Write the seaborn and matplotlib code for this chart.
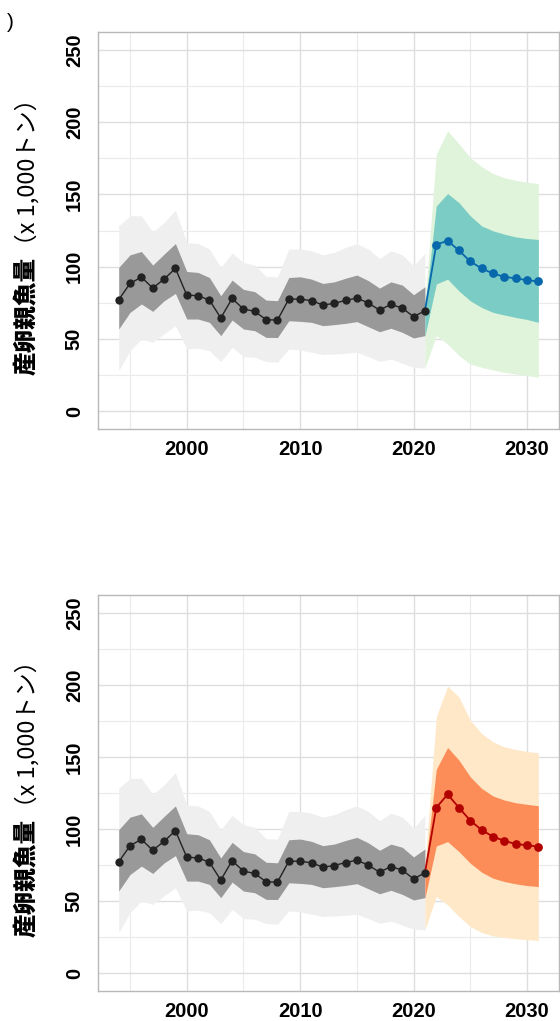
import matplotlib
matplotlib.use("Agg")
import matplotlib.pyplot as plt
import seaborn as sns

# ---- data -------------------------------------------------------------
years_hist = list(range(1994, 2022))
ssb_hist = [77.1, 88.4, 92.8, 85.2, 91.4, 98.8, 80.4, 79.9, 76.9, 64.5,
            78.0, 70.7, 69.1, 63.3, 63.1, 77.6, 77.6, 76.5, 73.5, 74.6,
            76.7, 78.3, 74.9, 70.0, 73.9, 71.4, 65.4, 69.5]
hist_hi80 = [99.5, 108.2, 110.5, 101.1, 108.7, 116.0, 96.7, 96.0, 92.5, 79.9,
             90.7, 84.3, 82.7, 76.9, 76.5, 92.5, 93.0, 91.4, 88.4, 89.5,
             92.0, 94.2, 90.4, 85.2, 89.5, 87.3, 80.6, 86.1]
hist_lo80 = [56.9, 68.4, 74.2, 69.1, 76.4, 81.5, 63.8, 63.8, 61.5, 52.3,
             63.1, 56.9, 55.7, 51.1, 51.0, 62.6, 62.2, 61.5, 59.2, 59.9,
             60.8, 62.0, 58.5, 55.0, 57.4, 54.6, 50.7, 52.3]
hist_hi95 = [128.2, 135.2, 135.2, 124.1, 130.5, 139.1, 116.7, 116.0, 112.2, 99.5,
             109.4, 102.9, 101.1, 93.2, 93.0, 112.2, 112.2, 111.0, 108.2, 109.9,
             113.3, 116.0, 112.2, 105.7, 111.0, 108.2, 100.6, 109.4]
hist_lo95 = [28.1, 41.9, 50.0, 47.7, 53.5, 59.2, 43.1, 43.6, 41.9, 34.3,
             44.2, 37.8, 37.3, 34.3, 34.0, 43.1, 42.4, 40.8, 39.2, 39.6,
             40.1, 40.8, 37.8, 34.5, 36.1, 33.2, 30.4, 29.9]

# projection intervals start from the terminal-year estimate
start_year = 2021
start_hi95, start_hi80, start_lo80, start_lo95 = 75.0, 71.0, 52.0, 30.0

years_proj = list(range(2022, 2032))

proj_a = [115.3, 117.9, 111.2, 103.6, 98.8, 95.3, 93.0, 91.9, 90.7, 89.8]
a_hi95 = [177.8, 193.9, 185.0, 175.4, 169.2, 164.4, 161.6, 159.8, 158.4, 157.5]
a_hi80 = [142.0, 150.6, 144.3, 135.2, 128.2, 124.8, 122.5, 120.6, 119.5, 118.8]
a_lo80 = [88.0, 91.4, 83.2, 76.4, 71.8, 68.4, 66.6, 64.9, 63.5, 61.5]
a_lo95 = [52.3, 46.5, 38.5, 32.7, 30.4, 28.6, 26.9, 25.8, 24.7, 23.5]

proj_b = [114.8, 124.0, 114.8, 105.8, 99.3, 94.7, 91.7, 89.6, 88.7, 87.7]
b_hi95 = [177.8, 199.1, 191.7, 175.5, 166.3, 160.5, 157.0, 155.2, 153.8, 152.9]
b_hi80 = [141.4, 156.6, 147.8, 136.2, 128.2, 122.9, 120.1, 118.2, 117.1, 116.1]
b_lo80 = [88.2, 91.2, 84.3, 76.2, 70.0, 65.8, 63.5, 61.9, 60.7, 60.0]
b_lo95 = [53.1, 47.3, 39.2, 32.3, 28.1, 25.8, 24.7, 23.8, 23.1, 22.6]

x_major = [2000, 2010, 2020, 2030]
x_minor = [1995, 2005, 2015, 2025]
y_major = [0, 50, 100, 150, 200, 250]
y_minor = [25, 75, 125, 175, 225]

ylabel_main = "産卵親魚量"
ylabel_unit = "（x 1,000トン）"

# ---- style ------------------------------------------------------------
sns.set_style("white")
plt.rcParams["font.family"] = ["Liberation Sans", "DejaVu Sans"]
plt.rcParams["text.color"] = "black"
plt.rcParams["xtick.labelcolor"] = "black"
plt.rcParams["ytick.labelcolor"] = "black"
jp_family = ["Noto Sans CJK JP", "DejaVu Sans"]

fig = plt.figure(figsize=(5.6, 10.21), dpi=100)
ax_top = fig.add_axes([0.1745, 0.5795, 0.8243, 0.3894])
ax_bot = fig.add_axes([0.1745, 0.0294, 0.8243, 0.3879])


def draw_panel(ax, proj, hi95, hi80, lo80, lo95, c_outer, c_inner, c_line):
    ax.fill_between(years_hist, hist_lo95, hist_hi95, color="#EFEFEF", lw=0, zorder=1)
    ax.fill_between(years_hist, hist_lo80, hist_hi80, color="#999999", lw=0, zorder=2)

    px = [start_year] + years_proj
    ax.fill_between(px, [start_lo95] + lo95, [start_hi95] + hi95,
                    color=c_outer, lw=0, zorder=1)
    ax.fill_between(px, [start_lo80] + lo80, [start_hi80] + hi80,
                    color=c_inner, lw=0, zorder=2)

    sns.lineplot(x=px, y=[ssb_hist[-1]] + proj, color=c_line, lw=1.3,
                 marker="o", markersize=6.3, markeredgewidth=0,
                 markevery=list(range(1, len(px))), ax=ax, zorder=3)
    sns.lineplot(x=years_hist, y=ssb_hist, color="#222222", lw=1.0,
                 marker="o", markersize=6.0, markeredgewidth=0, ax=ax, zorder=4)

    ax.set_xlim(1992.15, 2032.85)
    ax.set_ylim(-12.5, 262.5)
    ax.set_xticks(x_major)
    ax.set_xticks(x_minor, minor=True)
    ax.set_yticks(y_major)
    ax.set_yticks(y_minor, minor=True)
    ax.set_xticklabels([str(v) for v in x_major], fontsize=14.5, fontweight="bold",
                       color="black")
    ax.set_yticklabels([str(v) for v in y_major], fontsize=14.5, fontweight="bold",
                       rotation=90, va="center", ha="right", color="black")
    ax.set_xlabel("")
    ax.set_ylabel("")

    ax.set_axisbelow(True)
    ax.grid(which="major", color="#DEDEDE", lw=1.0)
    ax.grid(which="minor", color="#EBEBEB", lw=0.8)
    ax.tick_params(axis="y", which="major", length=4, width=0.9, color="#B3B3B3", pad=6)
    ax.tick_params(axis="x", which="major", length=3.5, width=0.9, color="#B3B3B3", pad=4.5)
    ax.tick_params(which="minor", length=0)
    for sp in ax.spines.values():
        sp.set_visible(True)
        sp.set_color("#B8B8B8")
        sp.set_linewidth(1.0)


draw_panel(ax_top, proj_a, a_hi95, a_hi80, a_lo80, a_lo95,
           "#E0F3DB", "#7BCCC4", "#0868AC")
draw_panel(ax_bot, proj_b, b_hi95, b_hi80, b_lo80, b_lo95,
           "#FEE8C8", "#FC8D59", "#B30000")

# two-part rotated y label: heavy species term followed by the unit
fig.canvas.draw()
renderer = fig.canvas.get_renderer()
for ax in (ax_top, ax_bot):
    pos = ax.get_position()
    yc = (pos.y0 + pos.y1) / 2
    x = 27 / 560
    t1 = fig.text(x, 0, ylabel_main, rotation=90, rotation_mode="anchor",
                  ha="left", va="center", fontsize=17, fontweight=900,
                  family=jp_family, color="black")
    t2 = fig.text(x, 0, ylabel_unit, rotation=90, rotation_mode="anchor",
                  ha="left", va="center", fontsize=17, fontweight="normal",
                  family=jp_family, color="black")
    h1 = t1.get_window_extent(renderer).height / fig.bbox.height
    h2 = t2.get_window_extent(renderer).height / fig.bbox.height
    y0 = yc - (h1 + h2) / 2
    t1.set_y(y0)
    t2.set_y(y0 + h1)

fig.text(10 / 560, 1 - 22 / 1021, ")", fontsize=15, ha="center", va="center",
         color="black")

fig.savefig("out.png", dpi=100)
